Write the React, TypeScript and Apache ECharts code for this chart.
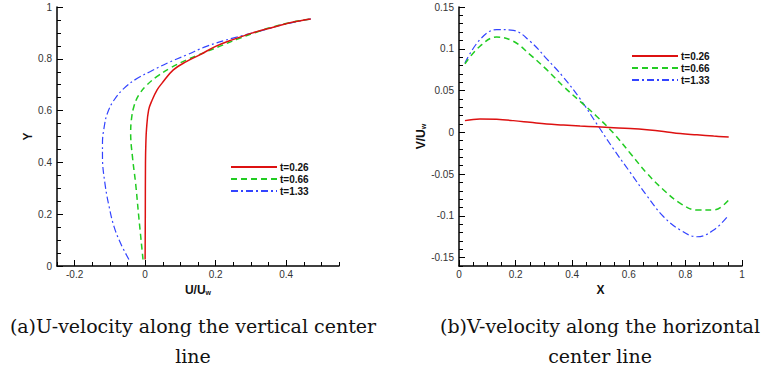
import React, { useEffect, useRef } from "react";
import * as echarts from "echarts";

// ---- Data (a): U-velocity along vertical center line ----
const seriesNames = ["t=0.26", "t=0.66", "t=1.33"];
const uRed = [0.0, 0.0005, 0.001, 0.002, 0.004, 0.01, 0.02, 0.034, 0.048, 0.08, 0.118, 0.155, 0.2, 0.249, 0.305, 0.361, 0.417, 0.47];
const yRed = [0.025, 0.2, 0.4, 0.47, 0.53, 0.603, 0.641, 0.68, 0.706, 0.757, 0.79, 0.815, 0.848, 0.874, 0.9, 0.921, 0.941, 0.954];
const uGreen = [-0.006, -0.018, -0.027, -0.036, -0.041, -0.039, -0.032, -0.018, 0.006, 0.034, 0.071, 0.118, 0.164, 0.211, 0.26, 0.31, 0.36, 0.415, 0.47];
const yGreen = [0.025, 0.19, 0.319, 0.422, 0.512, 0.564, 0.615, 0.66, 0.7, 0.732, 0.764, 0.796, 0.822, 0.848, 0.875, 0.9, 0.922, 0.941, 0.954];
const uBlue = [-0.046, -0.069, -0.088, -0.102, -0.114, -0.121, -0.121, -0.116, -0.107, -0.088, -0.06, -0.022, 0.015, 0.062, 0.118, 0.174, 0.249, 0.323, 0.398, 0.47];
const yBlue = [0.025, 0.086, 0.151, 0.228, 0.319, 0.422, 0.474, 0.538, 0.59, 0.641, 0.686, 0.725, 0.751, 0.783, 0.815, 0.848, 0.88, 0.906, 0.934, 0.954];

// ---- Data (b): V-velocity along horizontal center line ----
const xPos = [0.021, 0.074, 0.133, 0.192, 0.251, 0.31, 0.369, 0.428, 0.487, 0.546, 0.605, 0.664, 0.723, 0.782, 0.841, 0.9, 0.953];
const vRed = [0.014, 0.016, 0.0155, 0.014, 0.012, 0.01, 0.0088, 0.0076, 0.0066, 0.0056, 0.0045, 0.003, 0.001, -0.0015, -0.003, -0.0045, -0.0056];
const vGreen = [0.082, 0.103, 0.114, 0.109, 0.093, 0.075, 0.055, 0.037, 0.019, -0.001, -0.025, -0.049, -0.069, -0.085, -0.093, -0.093, -0.081];
const vBlue = [0.083, 0.111, 0.123, 0.122, 0.109, 0.088, 0.066, 0.04, 0.01, -0.02, -0.048, -0.076, -0.101, -0.117, -0.125, -0.117, -0.099];

// ---- Tick labels ----
const aXTicks = [-0.2, 0, 0.2, 0.4];
const aYTicks = [0, 0.2, 0.4, 0.6, 0.8, 1];
const bXTicks = [0, 0.2, 0.4, 0.6, 0.8, 1];
const bYTicks = [-0.15, -0.1, -0.05, 0, 0.05, 0.1, 0.15];

const captionA = ["(a)U-velocity along the vertical center", "line"];
const captionB = ["(b)V-velocity along the horizontal", "center line"];

const colors = ["#dd1111", "#22cc22", "#3344ff"];
const lineTypes: any[] = ["solid", [6, 4], [7, 3, 2, 3]];

const zip = (a: number[], b: number[]) => a.map((v, i) => [v, b[i]]);
const fmt = (v: number) => String(+(+v).toFixed(2));
const FONT = "Liberation Sans, Arial, sans-serif";

function majorAxis(
  gridIndex: number,
  min: number,
  max: number,
  ticks: number[],
  isX: boolean,
  name: string,
  nameGap: number
) {
  return {
    type: "value",
    gridIndex,
    min,
    max,
    position: isX ? "bottom" : "left",
    name,
    nameLocation: "middle",
    nameGap,
    nameTextStyle: {
      fontFamily: FONT,
      fontWeight: "bold",
      fontSize: 12,
      color: "#111",
      rich: {
        sub: { fontFamily: FONT, fontWeight: "bold", fontSize: 7, color: "#111", verticalAlign: "bottom", padding: [6, 0, 0, 0] },
      },
    },
    splitLine: { show: false },
    axisLine: { show: true, onZero: false, lineStyle: { color: "#000", width: 1.5 } },
    axisTick: { show: true, inside: true, length: 6, customValues: ticks, lineStyle: { color: "#000", width: 1 } },
    axisLabel: {
      show: true,
      customValues: ticks,
      formatter: (v: number) => fmt(v),
      fontFamily: FONT,
      fontSize: 10,
      color: "#333",
      margin: isX ? 3 : 5,
    },
  };
}

function minorAxis(gridIndex: number, min: number, max: number, interval: number, isX: boolean) {
  return {
    type: "value",
    gridIndex,
    min,
    max,
    interval,
    position: isX ? "bottom" : "left",
    splitLine: { show: false },
    axisLine: { show: false, onZero: false },
    axisTick: { show: true, inside: true, length: 4, lineStyle: { color: "#000", width: 1 } },
    axisLabel: { show: false },
  };
}

export default function App() {
  const ref = useRef<HTMLDivElement>(null);
  useEffect(() => {
    if (!ref.current) return;
    const chart = echarts.init(ref.current, undefined, { renderer: "svg" });

    const aData = [zip(uRed, yRed), zip(uGreen, yGreen), zip(uBlue, yBlue)];
    const bData = [zip(xPos, vRed), zip(xPos, vGreen), zip(xPos, vBlue)];

    const mkSeries = (data: number[][], i: number, gi: number) => ({
      type: "line",
      name: seriesNames[i],
      xAxisIndex: gi * 2,
      yAxisIndex: gi * 2,
      data,
      smooth: 0.4,
      symbol: "none",
      showSymbol: false,
      lineStyle: { color: colors[i], width: i === 2 ? 1.2 : 1.5, type: lineTypes[i] },
      itemStyle: { color: colors[i] },
      z: 3 - i,
    });

    const legendStyle = {
      orient: "vertical",
      itemWidth: 46,
      itemHeight: 10,
      itemGap: 2,
      itemStyle: { opacity: 0, color: "transparent", borderWidth: 0 },
      textStyle: { fontFamily: FONT, fontWeight: "bold", fontSize: 10, color: "#111", padding: [0, 0, 0, -2] },
      data: seriesNames,
    };

    const captionTexts: any[] = [];
    const addCaption = (lines: string[], cx: number) => {
      lines.forEach((t, k) => {
        captionTexts.push({
          type: "text",
          x: cx,
          y: 326 + k * 30,
          style: {
            text: t,
            fontFamily: "DejaVu Serif, Liberation Serif, serif",
            fontSize: 19,
            fill: "#111",
            textAlign: "center",
            textVerticalAlign: "middle",
          },
        });
      });
    };
    addCaption(captionA, 193);
    addCaption(captionB, 600);

    chart.setOption({
      animation: false,
      backgroundColor: "#fff",
      grid: [
        { left: 57, top: 7, width: 282, height: 259, containLabel: false },
        { left: 459, top: 7, width: 283, height: 259, containLabel: false },
      ],
      xAxis: [
        majorAxis(0, -0.25, 0.55, aXTicks, true, "U/U{sub|w}", 11),
        minorAxis(0, -0.25, 0.55, 0.05, true),
        majorAxis(1, 0, 1, bXTicks, true, "X", 11),
        minorAxis(1, 0, 1, 0.05, true),
      ],
      yAxis: [
        majorAxis(0, 0, 1, aYTicks, false, "Y", 16),
        minorAxis(0, 0, 1, 0.05, false),
        majorAxis(1, -0.16, 0.15, bYTicks, false, "V/U{sub|w}", 18),
        minorAxis(1, -0.16, 0.15, 0.01, false),
      ],
      legend: [
        { ...legendStyle, left: 225, top: 157 },
        { ...legendStyle, left: 626, top: 46 },
      ],
      series: [
        ...aData.map((d, i) => mkSeries(d, i, 0)),
        ...bData.map((d, i) => mkSeries(d, i, 1)),
      ],
      graphic: captionTexts,
    });

    return () => chart.dispose();
  }, []);

  return <div ref={ref} style={{ width: 769, height: 371, position: "absolute", left: 0, top: 0 }} />;
}
